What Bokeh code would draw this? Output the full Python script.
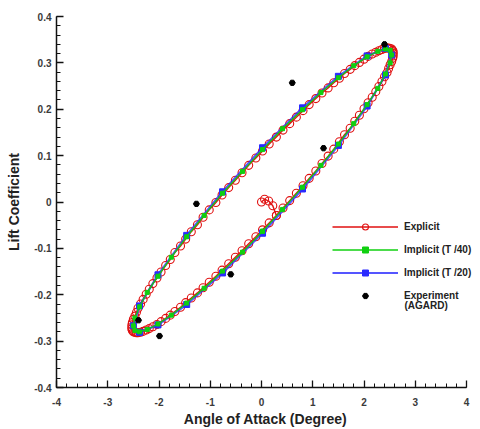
from bokeh.plotting import figure
from bokeh.models import Range1d, SingleIntervalTicker, CustomJSTickFormatter, Legend, LegendItem, Label
from bokeh.embed import file_html
from bokeh.resources import INLINE

# ---- data ----
# Explicit scheme (starts at alpha=0, Cl=0 then settles onto the loop)
explicit_alpha = [0.00, 0.06, 0.14, 0.22,
                  0.29, 0.42, 0.55, 0.68, 0.81, 0.93, 1.06, 1.18, 1.30, 1.41, 1.52, 1.62, 1.73, 1.82, 1.91, 2.00,
                  2.08, 2.16, 2.23, 2.29, 2.35, 2.40, 2.45, 2.48, 2.51, 2.54, 2.56, 2.57, 2.57, 2.57, 2.56, 2.54,
                  2.51, 2.48, 2.45, 2.40, 2.35, 2.29, 2.23, 2.16, 2.08, 2.00, 1.91, 1.82, 1.73, 1.62, 1.52, 1.41,
                  1.30, 1.18, 1.06, 0.93, 0.81, 0.68, 0.55, 0.42, 0.29, 0.15, 0.02, -0.11, -0.25, -0.38, -0.51,
                  -0.64, -0.77, -0.89, -1.02, -1.14, -1.25, -1.37, -1.48, -1.58, -1.69, -1.78, -1.87, -1.96, -2.04,
                  -2.12, -2.19, -2.25, -2.31, -2.36, -2.41, -2.44, -2.47, -2.50, -2.52, -2.53, -2.53, -2.53, -2.52,
                  -2.50, -2.47, -2.44, -2.41, -2.36, -2.31, -2.25, -2.19, -2.12, -2.04, -1.96, -1.87, -1.78, -1.69,
                  -1.58, -1.48, -1.37, -1.25, -1.14, -1.02, -0.89, -0.77, -0.64, -0.51, -0.38, -0.25, -0.11, 0.02,
                  0.15, 0.29]
explicit_cl = [0.000, 0.006, 0.002, -0.008,
               -0.029, -0.013, 0.003, 0.019, 0.035, 0.051, 0.067, 0.083, 0.099, 0.114, 0.130, 0.145, 0.159, 0.174,
               0.187, 0.201, 0.214, 0.226, 0.238, 0.249, 0.260, 0.270, 0.279, 0.288, 0.296, 0.303, 0.310, 0.315,
               0.320, 0.324, 0.327, 0.330, 0.331, 0.332, 0.332, 0.331, 0.329, 0.326, 0.323, 0.319, 0.314, 0.308,
               0.301, 0.294, 0.286, 0.277, 0.267, 0.257, 0.246, 0.235, 0.223, 0.210, 0.197, 0.183, 0.169, 0.155,
               0.140, 0.125, 0.110, 0.095, 0.079, 0.063, 0.047, 0.031, 0.015, -0.001, -0.017, -0.033, -0.049,
               -0.064, -0.080, -0.095, -0.109, -0.124, -0.137, -0.151, -0.164, -0.176, -0.188, -0.199, -0.210,
               -0.220, -0.229, -0.238, -0.246, -0.253, -0.260, -0.265, -0.270, -0.274, -0.277, -0.280, -0.281,
               -0.282, -0.282, -0.281, -0.279, -0.276, -0.273, -0.269, -0.264, -0.258, -0.251, -0.244, -0.236,
               -0.227, -0.217, -0.207, -0.196, -0.185, -0.173, -0.160, -0.147, -0.133, -0.119, -0.105, -0.090,
               -0.075, -0.060, -0.045, -0.029]

# Implicit, time step T/40
implicit40_alpha = [0.02, 0.41, 0.80, 1.16, 1.50, 1.80, 2.06, 2.27, 2.42, 2.51,
                    2.54, 2.51, 2.42, 2.27, 2.06, 1.80, 1.50, 1.16, 0.80, 0.41,
                    0.02, -0.37, -0.76, -1.12, -1.46, -1.76, -2.02, -2.23, -2.38, -2.47,
                    -2.50, -2.47, -2.38, -2.23, -2.02, -1.76, -1.46, -1.12, -0.76, -0.37, 0.02]
implicit40_cl = [-0.063, -0.016, 0.032, 0.079, 0.125, 0.169, 0.210, 0.245, 0.276, 0.300,
                 0.317, 0.327, 0.330, 0.325, 0.313, 0.294, 0.268, 0.236, 0.199, 0.158,
                 0.113, 0.066, 0.019, -0.029, -0.075, -0.119, -0.160, -0.195, -0.226, -0.250,
                 -0.267, -0.277, -0.280, -0.275, -0.263, -0.244, -0.218, -0.186, -0.149, -0.108, -0.063]

# Implicit, time step T/20
implicit20_alpha = [0.02, 0.80, 1.50, 2.06, 2.42, 2.54, 2.42, 2.06, 1.50, 0.80,
                    0.02, -0.76, -1.46, -2.02, -2.38, -2.50, -2.38, -2.02, -1.46, -0.76, 0.02]
implicit20_cl = [-0.067, 0.028, 0.122, 0.207, 0.274, 0.317, 0.331, 0.315, 0.271, 0.203,
                 0.117, 0.022, -0.072, -0.157, -0.224, -0.267, -0.281, -0.265, -0.221, -0.153, -0.067]

# Experiment (AGARD)
exp_alpha = [2.40, 0.60, 1.21, -1.27, -0.60, -2.40, -1.99]
exp_cl = [0.340, 0.257, 0.116, -0.004, -0.156, -0.255, -0.289]

labels = ["Explicit", "Implicit (T /40)", "Implicit (T /20)", "Experiment", "(AGARD)"]

RED = "#e01010"
GREEN = "#10d010"
BLUE = "#2a2aff"
FONT = "Liberation Sans"

# frame extends a little past alpha=4 so the legend text is not clipped;
# the axis line itself is bounded to [-4, 4]
p = figure(width=480, height=429, output_backend="svg", toolbar_location=None,
           x_range=Range1d(-4, 4.156), y_range=Range1d(-0.4, 0.4),
           min_border_left=56, min_border_right=6, min_border_top=16, min_border_bottom=37)
p.outline_line_color = None
p.grid.visible = False
p.background_fill_color = "white"

p.xaxis.ticker = SingleIntervalTicker(interval=1, num_minor_ticks=5)
p.yaxis.ticker = SingleIntervalTicker(interval=0.1, num_minor_ticks=5)
p.xaxis.formatter = CustomJSTickFormatter(code="return Math.round(tick).toString();")
p.yaxis.formatter = CustomJSTickFormatter(code="return (Math.round(tick*10)/10).toString();")
p.xaxis.bounds = (-4, 4)

for ax in (p.xaxis[0], p.yaxis[0]):
    ax.axis_line_width = 1.5
    ax.axis_line_color = "#111111"
    ax.major_tick_in = 7
    ax.major_tick_out = 0
    ax.minor_tick_in = 4
    ax.minor_tick_out = 0
    ax.major_tick_line_width = 1.3
    ax.major_tick_line_color = "#111111"
    ax.minor_tick_line_color = "#111111"
    ax.major_label_text_font = FONT
    ax.major_label_text_font_size = "10px"
    ax.major_label_text_font_style = "bold"
    ax.major_label_text_color = "#3a3a3a"
    ax.axis_label_text_font = FONT
    ax.axis_label_text_font_size = "14px"
    ax.axis_label_text_font_style = "bold"
    ax.axis_label_text_color = "#222222"

p.xaxis.axis_label = "Angle of Attack (Degree)"
p.yaxis.axis_label = "Lift Coefficient"
p.xaxis.major_label_standoff = 10
p.xaxis.axis_label_standoff = 2
p.yaxis.major_label_standoff = 5
p.yaxis.axis_label_standoff = 9

# Explicit
r_line = p.line(explicit_alpha, explicit_cl, line_color=RED, line_width=1.4)
r_pts = p.scatter(explicit_alpha, explicit_cl, marker="circle", size=8, line_color=RED,
                  fill_color="white", fill_alpha=0.0, line_width=1.1)
# Implicit T/20
b_line = p.line(implicit20_alpha, implicit20_cl, line_color=BLUE, line_width=2.2, line_alpha=0.8)
b_pts = p.scatter(implicit20_alpha, implicit20_cl, marker="square", size=6, line_color=BLUE,
                  fill_color=BLUE)
# Implicit T/40
g_line = p.line(implicit40_alpha, implicit40_cl, line_color=GREEN, line_width=1.3)
g_pts = p.scatter(implicit40_alpha, implicit40_cl, marker="square", size=4, line_color=GREEN,
                  fill_color=GREEN)
# Experiment
e_pts = p.scatter(exp_alpha, exp_cl, marker="hex", size=6, line_color="black", fill_color="black")

legend = Legend(items=[LegendItem(label=labels[0], renderers=[r_line, r_pts]),
                       LegendItem(label=labels[1], renderers=[g_line, g_pts]),
                       LegendItem(label=labels[2], renderers=[b_line, b_pts]),
                       LegendItem(label=labels[3], renderers=[e_pts])],
                location=(276, 82), glyph_width=66, glyph_height=15, label_height=20,
                label_standoff=6, spacing=3, padding=0, margin=0,
                border_line_color=None, background_fill_alpha=0.0,
                label_text_font=FONT, label_text_font_size="10px", label_text_baseline="middle",
                label_text_font_style="bold", label_text_color="#222222")
p.add_layout(legend)

# second line of the experiment legend label
p.add_layout(Label(x=2.79, y=-0.224, text=labels[4], text_font=FONT, text_font_size="10px",
                   text_font_style="bold", text_color="#222222", text_baseline="middle"))

open("out.html", "w").write(file_html(p, INLINE))
